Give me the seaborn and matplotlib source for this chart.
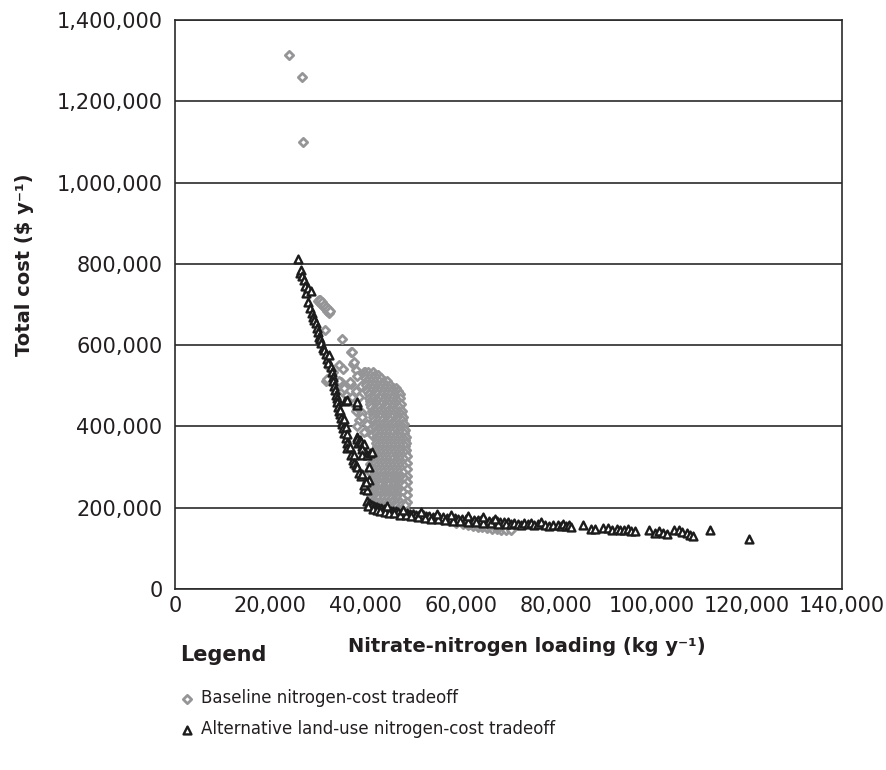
import numpy as np
import pandas as pd
import seaborn as sns
import matplotlib.pyplot as plt
from matplotlib.ticker import FuncFormatter, MultipleLocator

# ---- data (kg y-1 , $ y-1) ----
# baseline: isolated high-cost points
base_out_x = [23900, 26700, 26900]
base_out_y = [1313000, 1260000, 1101000]

# baseline: small cluster near 700,000
base_top_x = [30000, 30400, 30800, 31200, 31600, 32000, 32400, 30300, 30500, 30900, 31300, 31700, 32100, 32500]
base_top_y = [708000, 703000, 698000, 693000, 688000, 683000, 678000, 712000, 710000, 705000, 700000, 695000, 690000, 685000]

# baseline: scattered points between 700,000 and the dense cloud
base_sc_x = [31500, 35000, 36900, 37400, 37900, 34400, 32400, 33100, 31700, 33800, 34800, 36900, 37900, 35800,
             38600, 37200, 37900, 38600, 39300, 40400, 40000, 41400, 41000, 40700, 40400, 41400, 35200, 37100,
             37500, 35100, 36800, 39600, 34400, 35400, 37200, 38200, 39300, 38200, 39600, 31900, 38300, 39000]
base_sc_y = [637000, 614000, 583000, 554000, 538000, 551000, 545000, 533000, 513000, 505000, 509000, 505000, 487000, 478000,
             473000, 460000, 438000, 415000, 433000, 406000, 388000, 380000, 308000, 290000, 263000, 246000, 541000, 584000,
             558000, 488000, 509000, 533000, 513000, 495000, 472000, 447000, 423000, 402000, 386000, 517000, 525000, 500000]

# baseline: dense cloud, one list of x per cost level
cloud_y = [535000, 527000, 519000, 511000, 503000, 495000, 487000, 479000, 471000, 463000, 455000, 447000,
           439000, 431000, 423000, 415000, 407000, 399000, 391000, 383000, 375000, 367000, 359000, 351000,
           343000, 335000, 327000, 319000, 311000, 303000, 295000, 287000, 279000, 271000, 263000, 255000,
           247000, 239000, 231000, 223000, 215000, 207000]
cloud_x = [
    [39800, 40600, 41500],
    [40100, 41000, 41900, 42700],
    [39900, 40700, 41600, 42400, 43300],
    [40300, 41200, 42000, 42900, 43800, 44500],
    [40100, 41000, 41800, 42700, 43500, 44300, 45200],
    [40500, 41400, 42300, 43100, 44000, 44900, 45700, 46300],
    [40400, 41200, 42000, 42900, 43700, 44600, 45400, 46200, 46800],
    [40800, 41700, 42500, 43400, 44200, 45100, 45900, 46700, 47200],
    [40700, 41500, 42300, 43100, 44000, 44800, 45600, 46500, 47300],
    [41000, 41900, 42700, 43600, 44400, 45300, 46100, 46900],
    [40900, 41700, 42500, 43300, 44200, 45000, 45800, 46700, 47400],
    [41200, 42100, 42900, 43800, 44600, 45500, 46300, 47100],
    [41300, 42000, 42800, 43700, 44500, 45300, 46100, 47000, 47700],
    [41500, 42400, 43200, 44100, 44900, 45800, 46600, 47400],
    [41600, 42300, 43100, 44000, 44800, 45600, 46500, 47300, 47900],
    [41800, 42700, 43500, 44400, 45200, 46100, 46900, 47700],
    [41900, 42600, 43400, 44300, 45100, 45900, 46800, 47600, 48100],
    [42000, 42900, 43700, 44600, 45400, 46300, 47100, 47900],
    [42100, 42800, 43600, 44500, 45300, 46100, 47000, 47800, 48300],
    [42200, 43100, 43900, 44800, 45600, 46500, 47300, 48100],
    [42100, 42900, 43700, 44600, 45400, 46200, 47100, 47900, 48400],
    [42300, 43200, 44000, 44900, 45700, 46600, 47400, 48200],
    [42200, 43000, 43800, 44700, 45500, 46300, 47200, 48000, 48500],
    [42400, 43300, 44100, 45000, 45800, 46700, 47500, 48300],
    [42200, 43000, 43800, 44700, 45500, 46400, 47200, 48000, 48500],
    [42300, 43200, 44000, 44900, 45700, 46600, 47400, 48200],
    [42100, 42900, 43700, 44600, 45400, 46300, 47100, 47900, 48600],
    [42200, 43100, 43900, 44800, 45600, 46500, 47300, 48100],
    [42000, 42800, 43600, 44500, 45300, 46200, 47000, 47800, 48600],
    [42100, 43000, 43800, 44700, 45500, 46400, 47200, 48000],
    [41800, 42600, 43400, 44300, 45100, 46000, 46800, 47600, 48600],
    [41900, 42800, 43600, 44500, 45300, 46200, 47000, 47800],
    [41700, 42500, 43300, 44200, 45000, 45900, 46700, 47500, 48600],
    [41600, 42500, 43300, 44200, 45000, 45900, 46700, 47500, 48200],
    [41500, 42300, 43100, 44000, 44800, 45700, 46500, 47300, 48700],
    [41400, 42300, 43100, 44000, 44800, 45700, 46500, 47300, 48100],
    [41300, 42100, 42900, 43800, 44600, 45500, 46300, 47100, 48700],
    [41200, 42100, 42900, 43800, 44600, 45500, 46300, 47100, 47900],
    [41100, 41900, 42700, 43600, 44400, 45300, 46100, 46900, 48700],
    [41100, 41900, 42700, 43600, 44400, 45300, 46100, 46900, 47700],
    [41300, 42100, 43000, 43800, 44700, 45500, 46400, 47200, 48600],
    [41600, 42500, 43300, 44200, 45000, 45900, 46700, 47500, 48300],
]

# baseline: low-cost tail (mostly under the black band)
base_tail_x = [47000, 48500, 50000, 51500, 53000, 54500, 56000, 57500, 59000, 60500, 61500, 62500, 63500, 64500,
               65500, 66500, 67500, 68500, 69500, 70500, 62000, 64000, 66000, 68000, 58000, 55000, 52000, 49000]
base_tail_y = [195000, 190000, 184000, 180000, 177000, 174000, 170000, 167000, 163000, 160000, 157000, 155000, 153000, 152000,
               150000, 148000, 147000, 146000, 145000, 146000, 160000, 158000, 155000, 152000, 170000, 176000, 182000, 188000]

# alternative land use: steep branch
alt_steep_x = [25800, 26300, 26500, 26600, 27000, 27200, 27600, 27900, 28000, 28500, 28300, 28700, 28900, 29200,
               29600, 29900, 30000, 30300, 30500, 30600, 31000, 31300, 31700, 31900, 32200, 32400, 32700, 32900,
               33100, 33200, 33400, 33600, 33800, 34000, 34100, 34300, 34400, 34600, 34700, 34800, 35000, 35100,
               35400, 35300, 35500, 35800, 35800, 36000, 36100, 36200, 36800, 36900, 37300, 37500, 37600, 37900,
               38200, 38200, 38600, 38300, 38400, 38900, 39000, 39300, 39600, 39300, 39300, 39000, 40400, 41000,
               41400, 40700, 39300, 40700, 39600, 40300, 39700, 40000, 35700, 38100, 36100, 38200]
alt_steep_y = [811000, 777000, 785000, 771000, 760000, 746000, 728000, 741000, 706000, 732000, 692000, 680000, 669000, 662000,
               655000, 643000, 632000, 621000, 614000, 606000, 594000, 587000, 579000, 566000, 556000, 575000, 545000, 533000,
               522000, 511000, 500000, 490000, 478000, 469000, 460000, 449000, 438000, 430000, 440000, 420000, 412000, 405000,
               419000, 395000, 385000, 398000, 372000, 360000, 382000, 348000, 349000, 330000, 318000, 329000, 310000, 304000,
               374000, 300000, 286000, 369000, 358000, 366000, 362000, 353000, 357000, 345000, 329000, 278000, 330000, 334000,
               337000, 300000, 284000, 267000, 247000, 243000, 255000, 263000, 462000, 452000, 464000, 460000]

# alternative land use: flat band after 40,000 kg
alt_band_x = [40400, 40700, 41000, 41300, 41700, 42100, 42500, 42900, 43300, 43800, 44300, 44800, 45300, 45800,
              46300, 46900, 47500, 48100, 48700, 49300, 49900, 50600, 51300, 52000, 52700, 53400, 54100, 54800,
              55500, 56300, 57100, 57900, 58700, 59500, 60300, 61100, 61900, 62700, 63500, 64300, 65100, 65900,
              66700, 67500, 68300, 69100, 69900,
              40600, 41500, 42300, 43100, 44000, 45000, 46000, 47200, 48400, 49600, 51000, 52400, 53800, 55200,
              56700, 58300, 59900, 61500, 63100, 64700, 66300, 67900, 69500,
              44600, 47800, 51600, 55000, 58000, 61400, 64600, 67200]
alt_band_y = [216000, 211000, 208000, 206000, 204000, 202000, 201000, 200000, 199000, 197000, 196000, 195000, 193000, 192000,
              191000, 189000, 188000, 187000, 186000, 185000, 184000, 183000, 182000, 181000, 180000, 179000, 178000, 178000,
              177000, 176000, 175000, 174000, 174000, 173000, 172000, 172000, 171000, 170000, 170000, 169000, 168000, 168000,
              167000, 167000, 166000, 165000, 164000,
              203000, 197000, 194000, 192000, 190000, 188000, 186000, 183000, 181000, 179000, 177000, 175000, 173000, 172000,
              170000, 168000, 167000, 165000, 164000, 163000, 162000, 161000, 160000,
              203000, 195000, 189000, 185000, 181000, 179000, 176000, 173000]

# alternative land use: scattered points to the right
alt_right_x = [70500, 71200, 71900, 72600, 73300, 74000, 74800, 75400, 76100, 76900, 77600, 78600, 79300, 80400,
               81000, 81500, 82100, 82600, 83200, 85600, 87300, 88200, 89800, 90900, 91800, 92700, 93300, 94300,
               95000, 95800, 96500, 99400, 100800, 101500, 102400, 103300, 104800, 105700, 106500, 107400, 108100,
               108700, 112300, 120500]
alt_right_y = [160000, 163000, 161000, 158000, 162000, 159000, 163000, 158000, 161000, 165000, 157000, 154000, 158000, 157000,
               154000, 160000, 155000, 158000, 153000, 157000, 147000, 148000, 150000, 149000, 146000, 148000, 145000, 144000,
               147000, 143000, 142000, 144000, 139000, 142000, 138000, 136000, 144000, 146000, 141000, 138000, 134000,
               131000, 145000, 122000]

labels = ["Baseline nitrogen-cost tradeoff", "Alternative land-use nitrogen-cost tradeoff"]

# ---- assemble ----
cx, cy = [], []
for lvl, xs in zip(cloud_y, cloud_x):
    cx += xs
    cy += [lvl] * len(xs)

base = pd.DataFrame({"N": base_out_x + base_top_x + base_sc_x + cx + base_tail_x,
                     "cost": base_out_y + base_top_y + base_sc_y + cy + base_tail_y})
alt = pd.DataFrame({"N": alt_steep_x + alt_band_x + alt_right_x,
                    "cost": alt_steep_y + alt_band_y + alt_right_y})

sns.set_style("white")
plt.rcParams['font.family'] = ['DejaVu Sans']

gray = "#959597"
dark = "#1c1c1c"
txt = "#231f20"

fig = plt.figure(figsize=(8.87, 7.7), dpi=100)
ax = fig.add_axes([175 / 887, 1 - 589 / 770, 667 / 887, 569 / 770])

sns.scatterplot(data=base, x="N", y="cost", marker="D", s=18, color=gray, facecolor="white",
                edgecolor=gray, linewidth=2.0, label=labels[0], ax=ax, zorder=3)
sns.scatterplot(data=alt, x="N", y="cost", marker="^", s=32, color=dark, facecolor="white",
                edgecolor=dark, linewidth=1.7, label=labels[1], ax=ax, zorder=4)

ax.set_xlim(0, 140000)
ax.set_ylim(0, 1400000)
ax.xaxis.set_major_locator(MultipleLocator(20000))
ax.yaxis.set_major_locator(MultipleLocator(200000))
fmt = FuncFormatter(lambda v, p: f"{int(v):,}")
ax.xaxis.set_major_formatter(fmt)
ax.yaxis.set_major_formatter(fmt)

ax.set_axisbelow(True)
ax.yaxis.grid(True, color="#2a2a2a", linewidth=1.2)
ax.xaxis.grid(False)
for sp in ax.spines.values():
    sp.set_visible(True)
    sp.set_color("#2a2a2a")
    sp.set_linewidth(1.2)

ax.tick_params(axis="x", direction="in", length=5, width=1, pad=5, labelsize=15, labelcolor=txt, color="#2a2a2a")
ax.tick_params(axis="y", direction="out", length=3, width=1, pad=6, labelsize=15, labelcolor=txt, color="#2a2a2a")

ax.set_xlabel("Nitrate-nitrogen loading (kg y\u207b\u00b9)", fontsize=14, fontweight="bold", color=txt)
ax.xaxis.set_label_coords(0.528, -0.084)
ax.set_ylabel("Total cost ($ y\u207b\u00b9)", fontsize=14, fontweight="bold", color=txt)
ax.yaxis.set_label_coords(-0.212, 0.569)

fig.text(180 / 887, 1 - 655 / 770, "Legend", fontsize=15, fontweight="bold", color=txt,
         ha="left", va="center")

h, l = ax.get_legend_handles_labels()
leg = ax.legend(h, l, loc="upper left", bbox_to_anchor=(181 / 887, 1 - 689 / 770),
                bbox_transform=fig.transFigure, frameon=False, fontsize=12,
                borderpad=0, borderaxespad=0, handlelength=0.7, handletextpad=0.5,
                labelspacing=0.8, scatterpoints=1)
for t in leg.get_texts():
    t.set_color(txt)

fig.savefig("out.png", dpi=100)
